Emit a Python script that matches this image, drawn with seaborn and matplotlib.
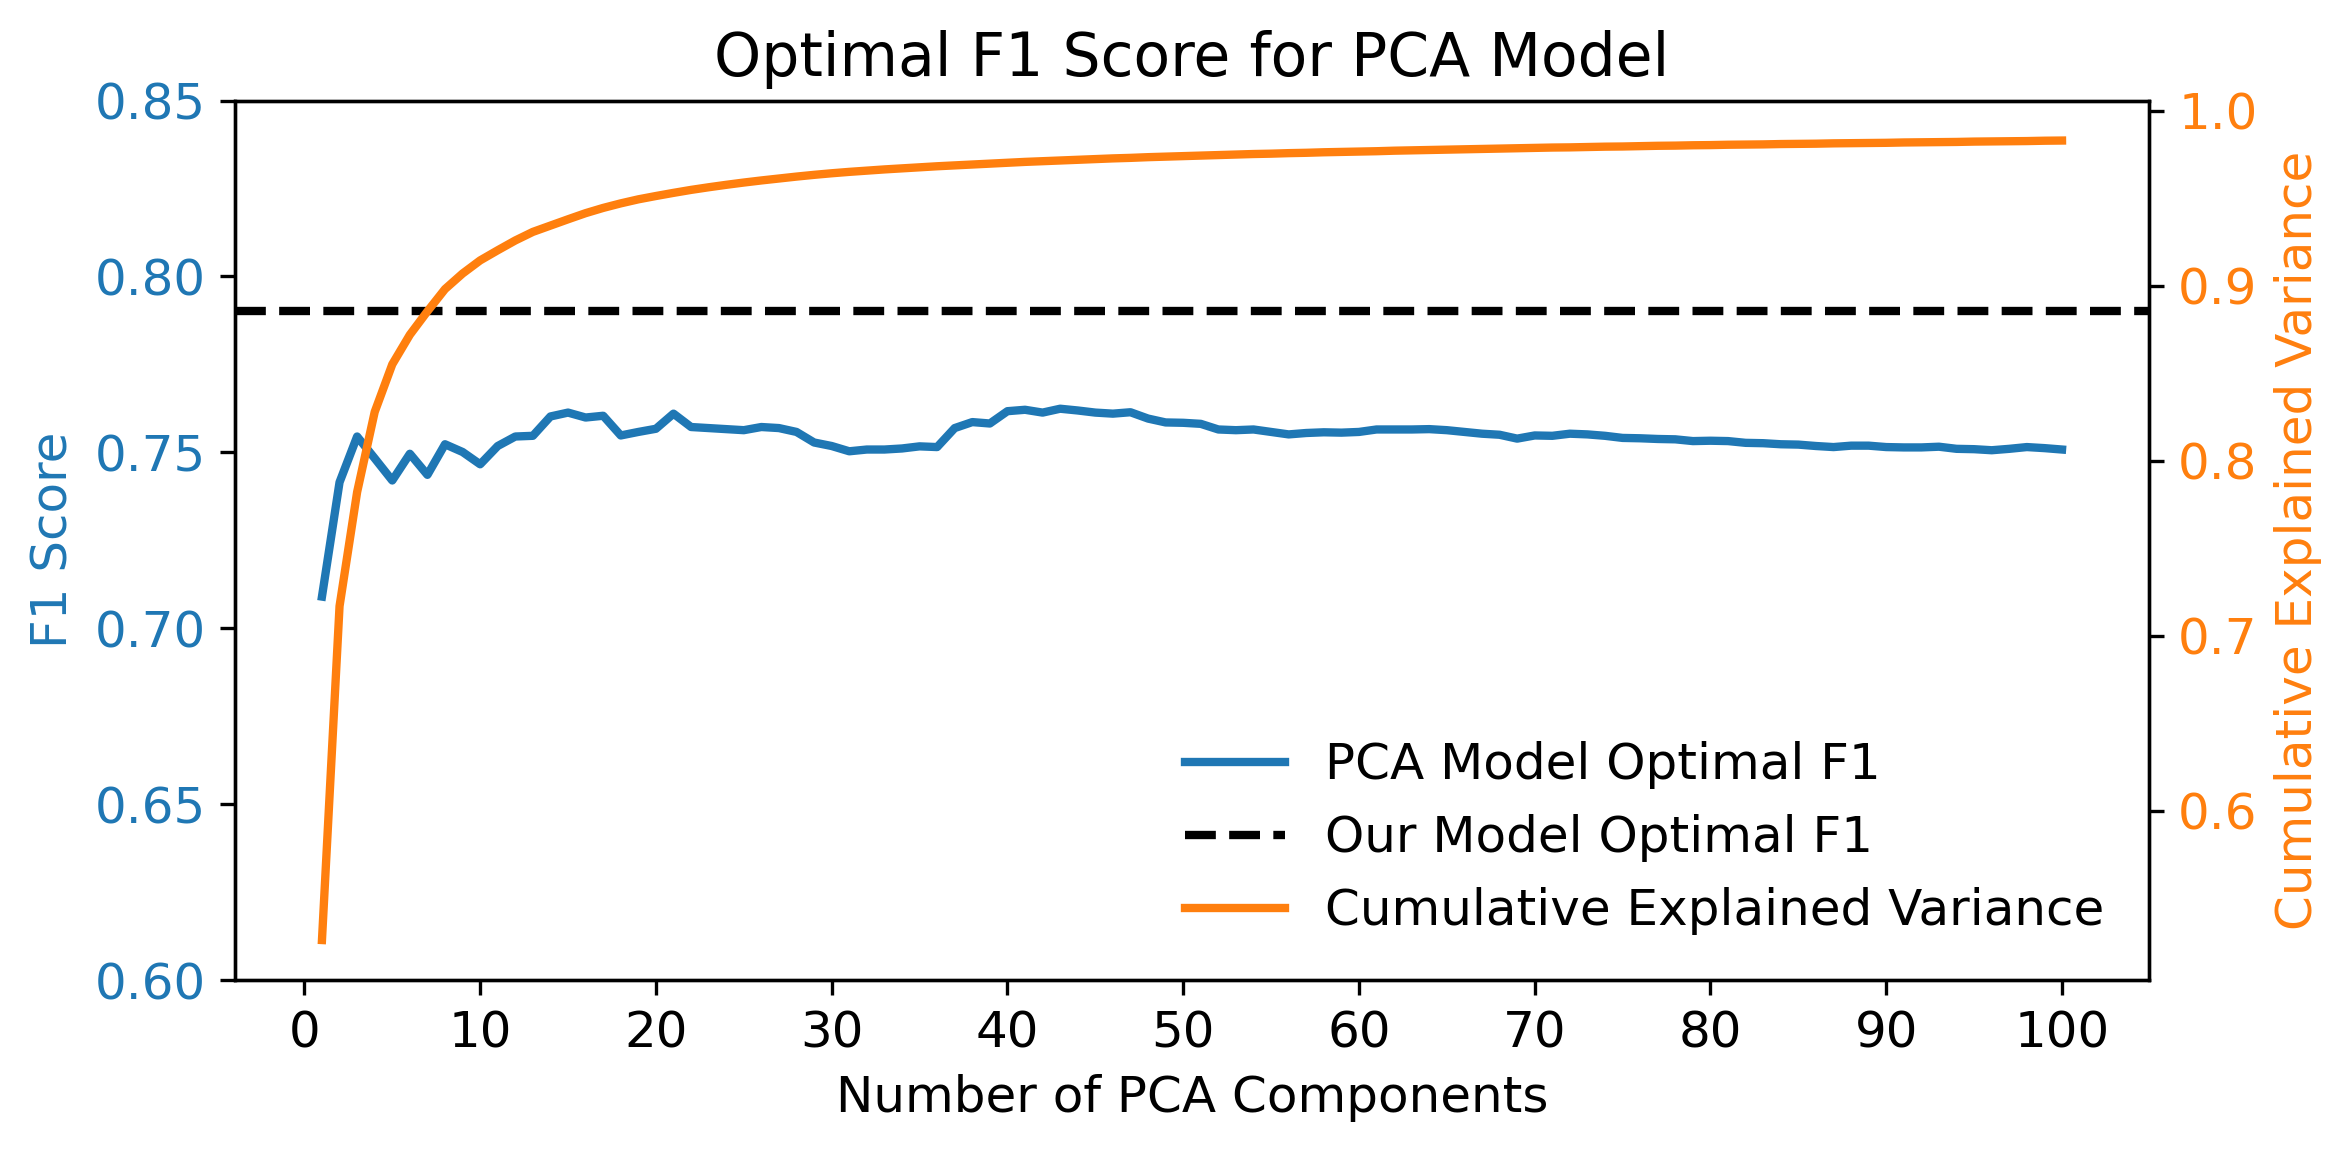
import numpy as np
import pandas as pd
import seaborn as sns
import matplotlib
matplotlib.use('Agg')
import matplotlib.pyplot as plt

plt.rcParams['font.size'] = 12

# number of PCA components kept
components = list(range(1, 101))

# optimal F1 of the PCA model, one value per component count
pca_f1 = [
    0.7090, 0.7415, 0.7545, 0.7483, 0.7420, 0.7496, 0.7436, 0.7523, 0.7501, 0.7466,
    0.7518, 0.7545, 0.7547, 0.7602, 0.7613, 0.7599, 0.7604, 0.7548, 0.7558, 0.7567,
    0.7610, 0.7572, 0.7569, 0.7566, 0.7563, 0.7572, 0.7569, 0.7558, 0.7528, 0.7518,
    0.7503, 0.7508, 0.7508, 0.7511, 0.7517, 0.7515, 0.7569, 0.7586, 0.7582, 0.7617,
    0.7621, 0.7613, 0.7624, 0.7619, 0.7613, 0.7610, 0.7614, 0.7596, 0.7585, 0.7584,
    0.7581, 0.7565, 0.7563, 0.7565, 0.7558, 0.7551, 0.7555, 0.7557, 0.7556, 0.7558,
    0.7565, 0.7565, 0.7565, 0.7566, 0.7563, 0.7558, 0.7553, 0.7550, 0.7539, 0.7548,
    0.7547, 0.7553, 0.7551, 0.7547, 0.7541, 0.7540, 0.7538, 0.7537, 0.7532, 0.7533,
    0.7532, 0.7527, 0.7526, 0.7523, 0.7522, 0.7518, 0.7515, 0.7519, 0.7519, 0.7515,
    0.7514, 0.7514, 0.7516, 0.7510, 0.7509, 0.7506, 0.7510, 0.7515, 0.7512, 0.7508,
]

# cumulative explained variance
cum_var = [
    0.5260, 0.7168, 0.7820, 0.8278, 0.8550, 0.8719, 0.8853, 0.8980, 0.9069, 0.9144,
    0.9202, 0.9258, 0.9307, 0.9343, 0.9379, 0.9414, 0.9444, 0.9470, 0.9493, 0.9512,
    0.9530, 0.9547, 0.9562, 0.9576, 0.9589, 0.9601, 0.9612, 0.9623, 0.9633, 0.9642,
    0.9650, 0.9657, 0.9664, 0.9670, 0.9676, 0.9682, 0.9687, 0.9692, 0.9697, 0.9702,
    0.9707, 0.9711, 0.9715, 0.9719, 0.9723, 0.9727, 0.9730, 0.9734, 0.9737, 0.9740,
    0.9743, 0.9746, 0.9749, 0.9752, 0.9754, 0.9757, 0.9759, 0.9762, 0.9764, 0.9766,
    0.9768, 0.9771, 0.9773, 0.9775, 0.9777, 0.9779, 0.9781, 0.9783, 0.9785, 0.9787,
    0.9789, 0.9790, 0.9792, 0.9794, 0.9795, 0.9797, 0.9799, 0.9800, 0.9802, 0.9803,
    0.9805, 0.9806, 0.9807, 0.9809, 0.9810, 0.9811, 0.9813, 0.9814, 0.9815, 0.9816,
    0.9818, 0.9819, 0.9820, 0.9821, 0.9823, 0.9824, 0.9825, 0.9826, 0.9828, 0.9829,
]

# our model's optimal F1 (reference line)
our_f1 = 0.7903

df = pd.DataFrame({'n': components, 'f1': pca_f1, 'var': cum_var})

fig = plt.figure(figsize=(7.84, 3.84), dpi=300)
ax1 = fig.add_axes([0.0999, 0.1493, 0.8138, 0.7634])

sns.lineplot(data=df, x='n', y='f1', ax=ax1, color='tab:blue', linewidth=2,
             label='PCA Model Optimal F1', legend=False)
ax1.axhline(our_f1, color='black', linestyle='--', linewidth=2, label='Our Model Optimal F1')
ax1.set_ylim(0.60, 0.85)
ax1.set_xticks(range(0, 101, 10))
ax1.set_xlabel('Number of PCA Components')
ax1.set_ylabel('F1 Score', color='tab:blue')
ax1.tick_params(axis='y', labelcolor='tab:blue')

ax2 = ax1.twinx()
sns.lineplot(data=df, x='n', y='var', ax=ax2, color='tab:orange', linewidth=2,
             label='Cumulative Explained Variance', legend=False)
ax2.set_ylabel('Cumulative Explained Variance', color='tab:orange')
ax2.tick_params(axis='y', labelcolor='tab:orange')

h1, l1 = ax1.get_legend_handles_labels()
h2, l2 = ax2.get_legend_handles_labels()
if ax1.get_legend() is not None:
    ax1.get_legend().remove()
ax2.legend(h1 + h2, l1 + l2, loc='lower right', frameon=False)

ax1.set_title('Optimal F1 Score for PCA Model')

fig.savefig('out.png', dpi=300)
